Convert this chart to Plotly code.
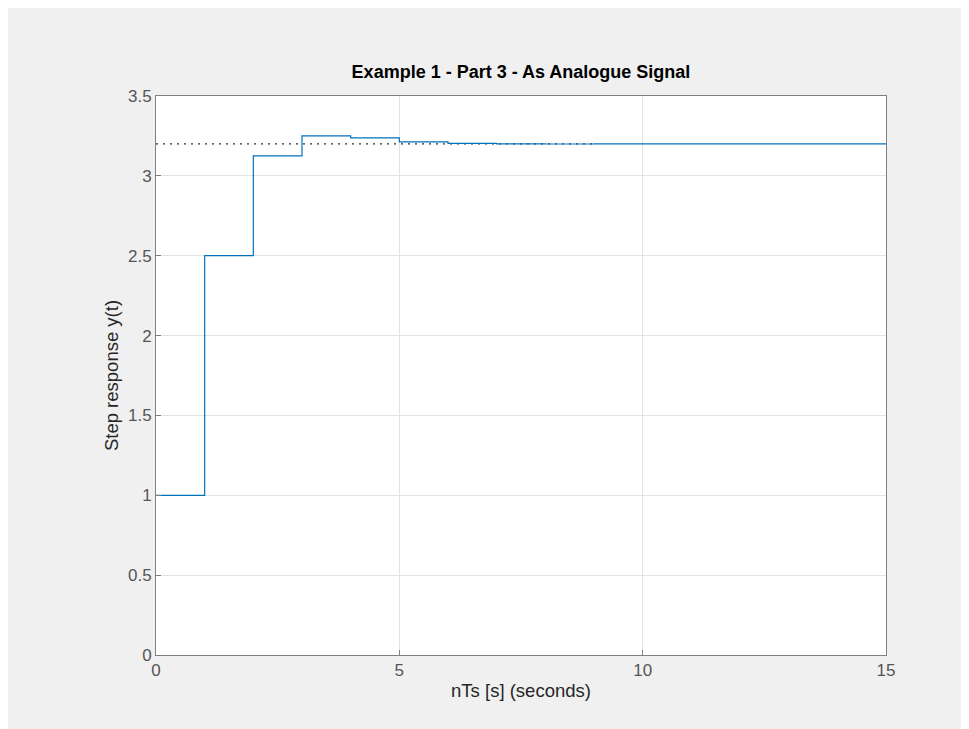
import plotly.graph_objects as go

# Data
n_samples = list(range(0, 16))
y_values = [1.0, 2.5, 3.125, 3.25, 3.2375, 3.2125, 3.2031, 3.2, 3.1995, 3.1997,
            3.2, 3.2, 3.2, 3.2, 3.2, 3.2]
steady_x = [0, 9]
steady_y = [3.2, 3.2]

x_ticks = [0, 5, 10, 15]
y_ticks = [0, 0.5, 1, 1.5, 2, 2.5, 3, 3.5]

W, H = 961, 721
L, R, T, B = 148, 83, 88, 74
pw, ph = W - L - R, H - T - B
FONT = "Liberation Sans, Arial, Helvetica"

fig = go.Figure()
fig.add_trace(go.Scatter(x=steady_x, y=steady_y, mode="lines",
                         line=dict(color="#333333", width=1.2, dash="2px,5px"),
                         hoverinfo="skip", showlegend=False))
fig.add_trace(go.Scatter(x=n_samples, y=y_values, mode="lines",
                         line=dict(color="#0072BD", width=1.2, shape="hv"),
                         showlegend=False))

axis_common = dict(showgrid=True, gridcolor="#e3e3e3", gridwidth=1,
                   showline=True, linecolor="#808080", linewidth=1, mirror=True,
                   ticks="inside", ticklen=5, tickcolor="#808080",
                   zeroline=False,
                   tickfont=dict(family=FONT, size=17, color="#555555"))

fig.update_xaxes(range=[0, 15], tickvals=x_ticks, ticktext=[str(v) for v in x_ticks],
                 title=dict(text="nTs [s] (seconds)", standoff=4,
                            font=dict(family=FONT, size=18.5, color="#262626")),
                 **axis_common)
fig.update_yaxes(range=[0, 3.5], tickvals=y_ticks, ticktext=[f"{v:g}" for v in y_ticks],
                 title=dict(text="Step response y(t)", standoff=4,
                            font=dict(family=FONT, size=18.5, color="#262626")),
                 **axis_common)

fig.update_layout(
    width=W, height=H,
    margin=dict(l=L, r=R, t=T, b=B, autoexpand=False),
    paper_bgcolor="#f0f0f0", plot_bgcolor="white",
    title=dict(text="<b>Example 1 - Part 3 - As Analogue Signal</b>",
               x=(L + pw / 2) / W, xanchor="center", y=1 - 64 / H, yanchor="middle",
               font=dict(family=FONT, size=18, color="#000000")),
)

fig.write_html("out.html")
